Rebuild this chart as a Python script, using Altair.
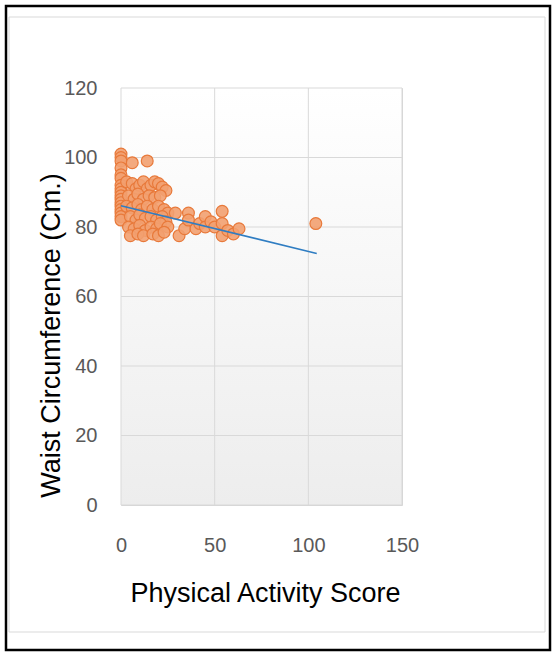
import altair as alt
import pandas as pd

# Physical activity score vs waist circumference (cm)
activity = [0, 0, 0, 0, 0, 0, 0, 0, 0, 0, 0, 0, 0, 0, 0, 0, 0,
            6, 14,
            3, 6, 8, 10, 12, 14, 16, 18, 20, 22, 24,
            4, 7, 9, 12, 15, 18, 21,
            3, 6, 9, 11, 14, 17, 20, 23, 25,
            5, 8, 10, 13, 16, 19, 22, 24,
            4, 7, 10, 13, 16, 19, 21, 25,
            5, 9, 12, 17, 20, 23,
            29, 31, 34, 36, 36, 40, 42, 45, 45, 48, 50, 54, 54, 54, 57, 60, 63,
            104]
waist = [101, 100, 99, 97, 95, 94, 92, 91, 90, 89, 88, 87, 86, 85, 84, 83, 82,
         98.5, 99,
         93, 92.5, 91, 92, 93, 91, 92, 93, 92.5, 91.5, 90.5,
         89, 88, 89.5, 88, 89, 88.5, 89,
         86, 85.5, 86.5, 85, 86, 85, 86, 85, 84,
         83, 82, 83.5, 82.5, 83, 82, 83, 81.5,
         80, 79.5, 80.5, 79, 80, 79.5, 81, 80,
         77.5, 78, 77.5, 78, 77.5, 78.5,
         84, 77.5, 79.5, 84, 82, 79.5, 81, 83, 80, 81.5, 80, 84.5, 81, 77.5, 79, 78, 79.5,
         81]

# Linear trend line end points
trend_x = [0, 104.5]
trend_y = [86.1, 72.4]

# Axis ticks
x_ticks = [0, 50, 100, 150]
y_ticks = [0, 20, 40, 60, 80, 100, 120]

W, H = 281, 417
FONT = "Liberation Sans"

pts = pd.DataFrame({"x": activity, "y": waist})
trend = pd.DataFrame({"x": trend_x, "y": trend_y})
gx = pd.DataFrame({"v": x_ticks})
gy = pd.DataFrame({"v": y_ticks})

xs = alt.Scale(domain=[0, 150], nice=False, zero=False)
ys = alt.Scale(domain=[0, 120], nice=False, zero=False)

x_axis = alt.Axis(values=x_ticks, grid=False, ticks=False, domain=False,
                  labelFont=FONT, labelFontSize=20, labelColor="#595959",
                  labelPadding=30, labelFlush=False,
                  title="Physical Activity Score",
                  titleFont=FONT, titleFontSize=27, titleFontWeight="normal",
                  titleColor="#000000", titleX=144, titleY=96,
                  titleAlign="center", titleBaseline="alphabetic")
y_axis = alt.Axis(values=y_ticks, grid=False, ticks=False, domain=False,
                  labelFont=FONT, labelFontSize=20, labelColor="#595959",
                  labelPadding=24, labelFlush=False,
                  title="Waist Circumference (Cm.)",
                  titleFont=FONT, titleFontSize=27, titleFontWeight="normal",
                  titleColor="#000000", titleAngle=270, titleX=-70, titleY=247,
                  titleAlign="center", titleBaseline="middle")

base_rect = alt.Chart(pd.DataFrame({"a": [0]}))

# page frames
outer = base_rect.mark_rect(fill=None, stroke="#000000", strokeWidth=2.5).encode(
    x=alt.value(-115), x2=alt.value(429), y=alt.value(-82), y2=alt.value(562))
inner = base_rect.mark_rect(fill=None, stroke="#D9D9D9", strokeWidth=1).encode(
    x=alt.value(-112), x2=alt.value(424), y=alt.value(-71), y2=alt.value(544))

# plot background gradient
bg = base_rect.mark_rect(
    fill=alt.LinearGradient(gradient="linear", x1=0, x2=0, y1=0, y2=1,
                            stops=[alt.GradientStop(color="#FFFFFF", offset=0),
                                   alt.GradientStop(color="#EDEDED", offset=1)])
).encode(x=alt.value(0), x2=alt.value(W), y=alt.value(0), y2=alt.value(H))

grid_v = alt.Chart(gx).mark_rule(color="#D9D9D9", strokeWidth=1).encode(
    x=alt.X("v:Q", scale=xs, axis=x_axis))
grid_h = alt.Chart(gy).mark_rule(color="#D9D9D9", strokeWidth=1).encode(
    y=alt.Y("v:Q", scale=ys, axis=y_axis))

points = alt.Chart(pts).mark_point(
    shape="circle", filled=True, size=140, fill="#F2A070", fillOpacity=0.9,
    stroke="#E8793A", strokeWidth=1.2, strokeOpacity=1
).encode(x=alt.X("x:Q", scale=xs), y=alt.Y("y:Q", scale=ys))

line = alt.Chart(trend).mark_line(color="#2F7DC2", strokeWidth=1.6).encode(
    x=alt.X("x:Q", scale=xs), y=alt.Y("y:Q", scale=ys))

chart = alt.layer(outer, inner, bg, grid_v, grid_h, points, line).properties(
    width=W, height=H,
    autosize=alt.AutoSizeParams(type="none"),
    padding={"left": 121, "top": 88, "right": 151, "bottom": 148},
    background="#FFFFFF",
).configure_view(stroke="#D4D4D4", strokeWidth=1)

chart.save("out.html", embed_options={"renderer": "svg", "actions": False})
